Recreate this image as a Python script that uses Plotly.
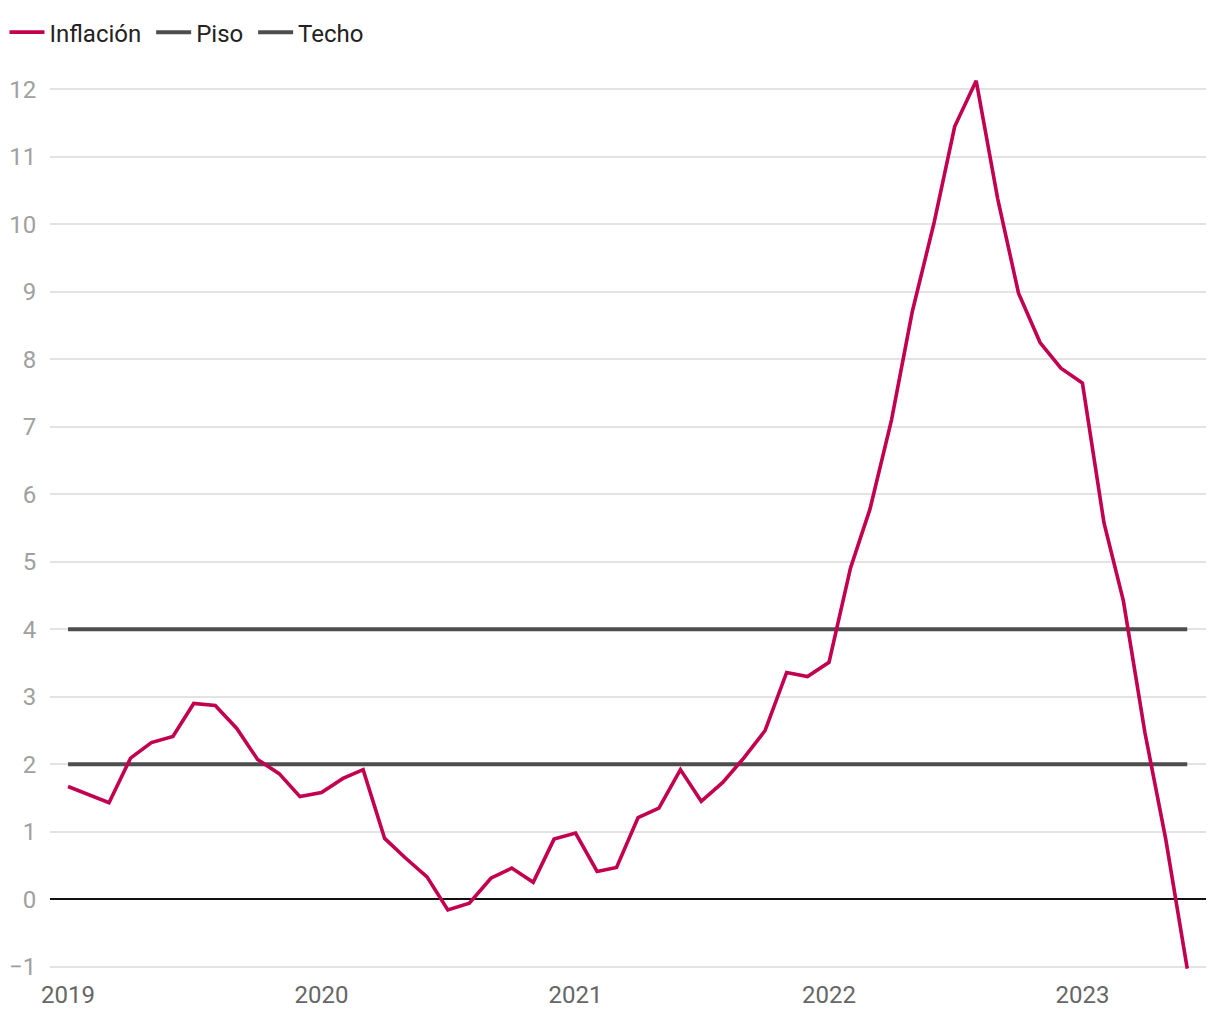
import plotly.graph_objects as go
import pandas as pd

fechas = pd.date_range("2019-01-01", "2023-06-01", freq="MS")
inflacion = [1.67, 1.55, 1.43, 2.09, 2.32, 2.41, 2.90, 2.87, 2.53, 2.07, 1.86, 1.52,
             1.58, 1.79, 1.92, 0.90, 0.61, 0.33, -0.16, -0.06, 0.31, 0.46, 0.25, 0.89,
             0.98, 0.41, 0.47, 1.21, 1.35, 1.92, 1.45, 1.73, 2.10, 2.50, 3.36, 3.30,
             3.51, 4.91, 5.78, 7.10, 8.71, 10.01, 11.45, 12.13, 10.38, 8.98, 8.25, 7.87,
             7.65, 5.58, 4.42, 2.47, 0.89, -1.03]
piso = [2] * len(fechas)
techo = [4] * len(fechas)
y_ticks = list(range(-1, 13))
x_ticks = ["2019-01-01", "2020-01-01", "2021-01-01", "2022-01-01", "2023-01-01"]
x_labels = ["2019", "2020", "2021", "2022", "2023"]

fig = go.Figure()
fig.add_trace(go.Scatter(x=fechas, y=piso, name="Piso\u2009", mode="lines", legendrank=2,
                         line=dict(color="#4d4d4d", width=4)))
fig.add_trace(go.Scatter(x=fechas, y=techo, name="Techo", mode="lines", legendrank=3,
                         line=dict(color="#4d4d4d", width=4)))
fig.add_trace(go.Scatter(x=fechas, y=inflacion, name="Inflación\u2009", mode="lines", legendrank=1,
                         line=dict(color="#c2004f", width=3.6), cliponaxis=False))

fig.update_layout(
    width=1204, height=1004,
    margin=dict(l=42, r=6, t=67.5, b=41.6, autoexpand=False),
    paper_bgcolor="white", plot_bgcolor="white",
    font=dict(family="Roboto", size=24, color="#333"),
    showlegend=True,
    legend=dict(orientation="h", x=-0.0394, xanchor="left", y=1.0486, yanchor="middle",
                font=dict(size=24, color="#222"), traceorder="normal", itemwidth=35),
    hovermode=False,
)

fig.update_xaxes(
    type="date",
    range=["2018-12-06", "2023-06-28"],
    tickvals=x_ticks, ticktext=x_labels,
    showgrid=False, zeroline=False, showline=False,
    tickfont=dict(size=24, color="#666"),
    ticks="outside", ticklen=3, tickcolor="rgba(0,0,0,0)",
    automargin=False,
)
fig.update_yaxes(
    range=[-1.05, 12.2],
    tickvals=y_ticks,
    ticktext=[("−1" if v == -1 else str(v)) for v in y_ticks],
    showgrid=True, gridcolor="#e3e3e3", gridwidth=1.5,
    zeroline=True, zerolinecolor="#111", zerolinewidth=1.5,
    showline=False,
    tickfont=dict(size=24, color="#a0a0a0"),
    ticks="outside", ticklen=8, tickcolor="rgba(0,0,0,0)",
    automargin=False,
)

fig.write_html("out.html")
